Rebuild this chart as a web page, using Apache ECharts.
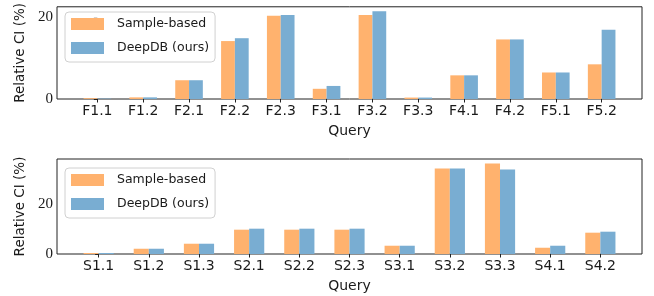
<!DOCTYPE html>
<html>
<head>
<meta charset="utf-8">
<script src="https://cdn.jsdelivr.net/npm/echarts@6/dist/echarts.min.js"></script>
<style>
  html, body { margin: 0; padding: 0; background: #fff; }
  #chart { width: 654px; height: 296px; }
</style>
</head>
<body>
<div id="chart"></div>
<script>
// top panel: F queries
var fQueries = ['F1.1', 'F1.2', 'F2.1', 'F2.2', 'F2.3', 'F3.1', 'F3.2', 'F3.3', 'F4.1', 'F4.2', 'F5.1', 'F5.2']
var fSample = [0.2, 0.4, 4.6, 14.2, 20.4, 2.5, 20.6, 0.35, 5.8, 14.6, 6.5, 8.5]
var fDeepDB = [0.1, 0.4, 4.6, 14.9, 20.6, 3.2, 21.5, 0.35, 5.8, 14.6, 6.5, 17.0]

// bottom panel: S queries
var sQueries = ['S1.1', 'S1.2', 'S1.3', 'S2.1', 'S2.2', 'S2.3', 'S3.1', 'S3.2', 'S3.3', 'S4.1', 'S4.2']
var sSample = [0.4, 2.1, 4.1, 9.7, 9.7, 9.7, 3.3, 34.1, 36.1, 2.5, 8.5]
var sDeepDB = [0.4, 2.1, 4.1, 10.1, 10.1, 10.1, 3.3, 34.1, 33.7, 3.3, 8.9]

var yTicks = [0, 20]
var names = ['Sample-based', 'DeepDB (ours)']
var colors = ['#ffb26e', '#79add2']

var sans = 'DejaVu Sans'
var serif = 'Liberation Serif'

function pairs(vals) {
  return vals.map(function (v, i) { return [i, v] })
}
function idx(n) {
  var a = []
  for (var i = 0; i < n; i++) a.push(i)
  return a
}

function xAxisFor(cats, gridIndex) {
  var n = cats.length
  var pad = (n - 0.4) * 0.05 + 0.3
  return {
    type: 'value',
    gridIndex: gridIndex,
    min: -pad,
    max: n - 1 + pad,
    splitLine: { show: false },
    axisLine: { show: false },
    axisTick: { show: true, length: 3.5, customValues: idx(n), lineStyle: { color: '#222' } },
    axisLabel: {
      customValues: idx(n),
      formatter: function (v) { return cats[Math.round(v)] },
      fontFamily: sans, fontSize: 14, color: '#1a1a1a', margin: 5
    },
    name: 'Query',
    nameLocation: 'middle',
    nameGap: 25,
    nameTextStyle: { fontFamily: sans, fontSize: 14, color: '#1a1a1a' }
  }
}

function yAxisFor(max, gridIndex) {
  return {
    type: 'value',
    gridIndex: gridIndex,
    min: 0,
    max: max,
    splitLine: { show: false },
    axisLine: { show: false },
    axisTick: { show: true, length: 3.5, customValues: yTicks, lineStyle: { color: '#222' } },
    axisLabel: { customValues: yTicks, fontFamily: serif, fontSize: 15, color: '#1a1a1a', margin: 4 },
    name: 'Relative CI (%)',
    nameLocation: 'middle',
    nameRotate: 90,
    nameGap: 25,
    nameTextStyle: { fontFamily: sans, fontSize: 13.5, color: '#1a1a1a' }
  }
}

function legendFor(top) {
  return {
    orient: 'vertical',
    left: 65,
    top: top,
    data: names,
    icon: 'rect',
    itemWidth: 33,
    itemHeight: 12,
    itemGap: 8,
    padding: [4, 6, 6, 6],
    borderColor: '#d0d0d0',
    borderWidth: 1,
    borderRadius: 4,
    backgroundColor: 'rgba(255,255,255,0.8)',
    selectedMode: false,
    textStyle: { fontFamily: sans, fontSize: 12.5, color: '#1a1a1a', lineHeight: 16, padding: [0, 0, 0, 8] }
  }
}

function barSeries(name, vals, gridIndex, color, width) {
  return {
    name: name,
    type: 'bar',
    xAxisIndex: gridIndex,
    yAxisIndex: gridIndex,
    data: pairs(vals),
    barWidth: width,
    barGap: '0%',
    itemStyle: { color: color },
    emphasis: { disabled: true }
  }
}

var chart = echarts.init(document.getElementById('chart'), null, { renderer: 'canvas' })
chart.setOption({
  animation: false,
  color: colors,
  grid: [
    { left: 57, top: 3, width: 585, height: 96, show: true, borderColor: '#222', borderWidth: 1, backgroundColor: 'transparent' },
    { left: 57, top: 159, width: 585, height: 95, show: true, borderColor: '#222', borderWidth: 1, backgroundColor: 'transparent' }
  ],
  legend: [legendFor(12), legendFor(168)],
  xAxis: [xAxisFor(fQueries, 0), xAxisFor(sQueries, 1)],
  yAxis: [yAxisFor(22.6, 0), yAxisFor(37.9, 1)],
  series: [
    barSeries(names[0], fSample, 0, colors[0], 13.8),
    barSeries(names[1], fDeepDB, 0, colors[1], 13.8),
    barSeries(names[0], sSample, 1, colors[0], 15.1),
    barSeries(names[1], sDeepDB, 1, colors[1], 15.1)
  ]
})
</script>
</body>
</html>
